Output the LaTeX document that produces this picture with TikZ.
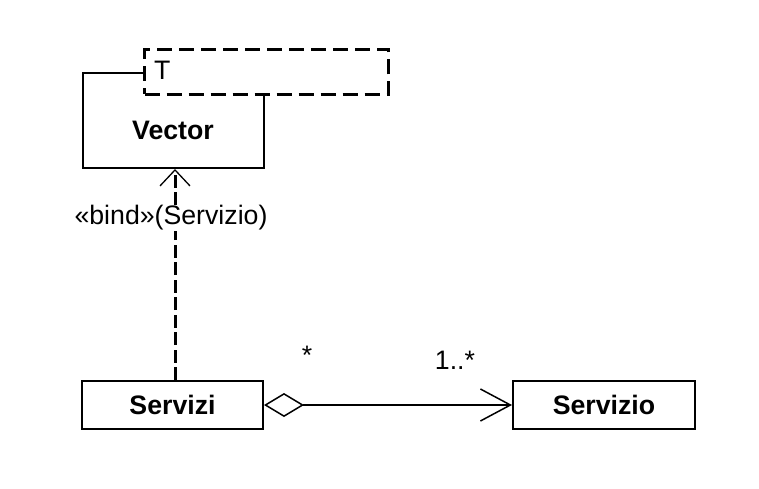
\documentclass[tikz,border=0pt]{standalone}
\usepackage{fontspec}
\setmainfont{Liberation Sans}
\usetikzlibrary{arrows.meta}
\begin{document}
\begin{tikzpicture}[x=1pt,y=-1pt,
  cls/.style={draw, line width=2pt, fill=white, inner sep=0pt, font=\fontsize{26.7}{30}\selectfont\bfseries},
  lbl/.style={font=\fontsize{26.7}{30}\selectfont, inner sep=0pt},
  tparam/.style={draw, dash pattern=on 15pt off 7pt, line width=3pt, fill=white, inner sep=0pt}]
\useasboundingbox (0,0) rectangle (759,489);
% Vector template class
\node[cls, minimum width=181pt, minimum height=95pt, anchor=north west] (vector) at (82,72) {};
\node[font=\fontsize{26.7}{30}\selectfont\bfseries] (vname) at (173,130) {Vector};
\node[tparam, minimum width=244pt, minimum height=45pt, anchor=north west] (param) at (143,48) {};
\node[lbl, anchor=west] (tname) at (154,70) {T};
% Servizi and Servizio
\node[cls, minimum width=181pt, minimum height=48pt] (servizi) at (172.5,405) {Servizi};
\node[cls, minimum width=182pt, minimum height=48pt] (servizio) at (604,405) {Servizio};
% dependency
\coordinate (dtop) at (vector.south -| 175,0);
\draw[line width=3pt, dash pattern=on 13pt off 4.5pt,
  -{Straight Barb[length=16pt,width=30pt,line width=1.3pt]}]
  (servizi.north -| dtop) -- (dtop);
\node[lbl, fill=white, inner sep=1pt] (bind) at (171,218) {«bind»(Servizio)};
% aggregation
\draw[line width=1.3pt, {Diamond[open,length=40pt,width=24pt,line width=1.5pt]}-{Straight Barb[length=30pt,width=32pt,line width=1.5pt]}]
  (servizi.east) -- (servizio.west);
\node[lbl] (m1) at (307,355) {*};
\node[lbl] (m2) at (455,360) {1..*};
\end{tikzpicture}
\end{document}
